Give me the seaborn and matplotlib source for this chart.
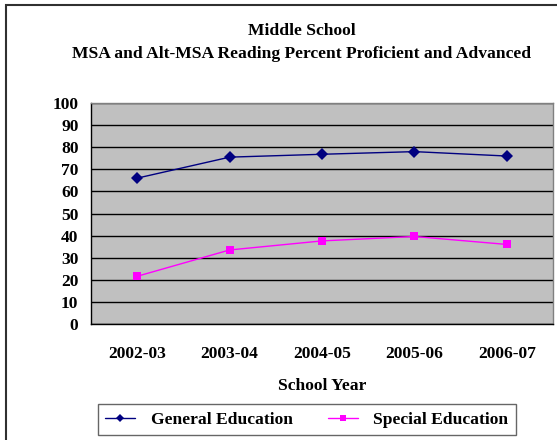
import matplotlib
matplotlib.use("Agg")
import matplotlib.pyplot as plt
import matplotlib.patches as mpatches
import seaborn as sns
import pandas as pd

# Datos
years = ["2002-03", "2003-04", "2004-05", "2005-06", "2006-07"]
general_ed = [66, 75.5, 76.8, 78, 76]
special_ed = [21.6, 33.5, 37.6, 39.6, 36]

df = pd.DataFrame({
    "year": years * 2,
    "value": general_ed + special_ed,
    "group": ["General Education"] * len(years) + ["Special Education"] * len(years),
})

sns.set_style("white")
plt.rcParams["font.family"] = ["Liberation Serif", "DejaVu Serif"]
plt.rcParams["font.weight"] = "bold"
plt.rcParams["text.color"] = "black"
plt.rcParams["axes.labelcolor"] = "black"
plt.rcParams["xtick.color"] = "black"
plt.rcParams["ytick.color"] = "black"

fs = 12.6

fig = plt.figure(figsize=(5.57, 4.40), dpi=100)
ax = fig.add_axes([91 / 557, 1 - 324 / 440, 462 / 557, 221 / 440])
ax.set_facecolor("#C0C0C0")

sns.lineplot(data=df, x="year", y="value", hue="group", style="group",
             palette={"General Education": "#000080", "Special Education": "#FF00FF"},
             markers={"General Education": "D", "Special Education": "s"},
             dashes=False, markersize=6, markeredgewidth=0, linewidth=1,
             sort=False, ax=ax, zorder=3)

ax.set_xlim(-0.5, len(years) - 0.5)
ax.set_ylim(0, 100)
ax.set_yticks(range(0, 101, 10))
ax.yaxis.grid(True, color="black", linewidth=1)
ax.set_axisbelow(True)

ax.set_xticks(range(len(years)))
ax.set_xticklabels(years, fontsize=fs, fontweight="bold")
ax.set_xticks([i - 0.5 for i in range(len(years) + 1)], minor=True)
ax.tick_params(axis="x", which="major", length=0, pad=16)
ax.tick_params(axis="x", which="minor", length=5, direction="out", color="black")
ax.tick_params(axis="y", length=5, direction="out", color="black", labelsize=fs, pad=4)
for lbl in ax.get_yticklabels():
    lbl.set_fontweight("bold")

for side in ["left", "bottom"]:
    ax.spines[side].set_color("black")
    ax.spines[side].set_linewidth(1)
for side in ["top", "right"]:
    ax.spines[side].set_color("#808080")
    ax.spines[side].set_linewidth(1)

ax.set_xlabel("School Year", fontsize=fs, fontweight="bold", labelpad=11)
ax.set_ylabel("")

fig.text(302 / 557, 1 - 31 / 440, "Middle School", ha="center", va="center",
         fontsize=fs, fontweight="bold")
fig.text(302 / 557, 1 - 54 / 440, "MSA and Alt-MSA Reading Percent Proficient and Advanced",
         ha="center", va="center", fontsize=fs, fontweight="bold")

handles, labels = ax.get_legend_handles_labels()
for h in handles:
    h.set_markersize(4.5)
ax.legend_.remove()
leg = fig.legend(handles, labels, loc="center", bbox_to_anchor=(307 / 557, 1 - 419.5 / 440),
                 ncol=2, frameon=True, fancybox=False, edgecolor="#404040",
                 prop={"weight": "bold", "size": fs}, handlelength=1.7,
                 columnspacing=2.0, borderpad=0.4, handletextpad=0.9)
leg.get_frame().set_linewidth(1)

# Borde exterior del grafico
fig.patches.append(mpatches.Rectangle((6 / 557, -0.1), 1.2, (1 - 5 / 440) + 0.1,
                                      transform=fig.transFigure, fill=False,
                                      edgecolor="#303030", linewidth=1.5))

fig.savefig("out.png", dpi=100)
